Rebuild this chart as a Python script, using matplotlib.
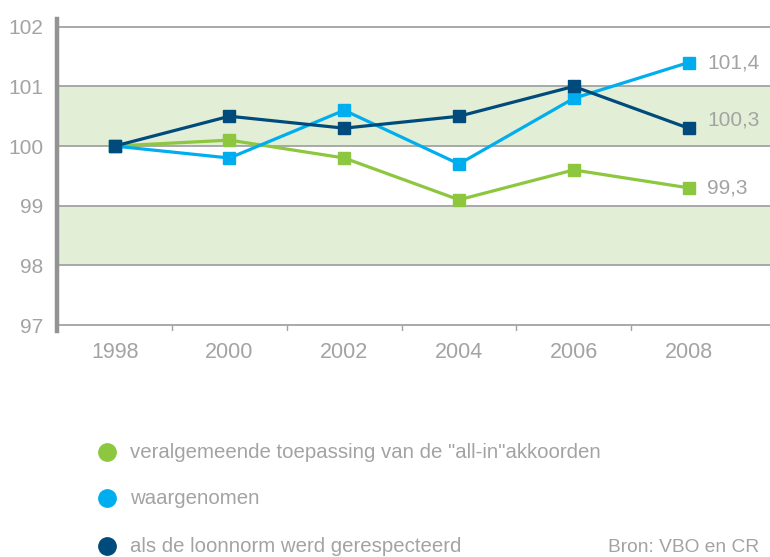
import matplotlib
matplotlib.use("Agg")
import matplotlib.pyplot as plt
from matplotlib.lines import Line2D

# gegevens
years = ["1998", "2000", "2002", "2004", "2006", "2008"]
allin = [100.0, 100.1, 99.8, 99.1, 99.6, 99.3]
waargenomen = [100.0, 99.8, 100.6, 99.7, 100.8, 101.4]
loonnorm = [100.0, 100.5, 100.3, 100.5, 101.0, 100.3]
y_ticks = [97, 98, 99, 100, 101, 102]
end_labels = ["101,4", "100,3", "99,3"]
legend_labels = [
    'veralgemeende toepassing van de "all-in"akkoorden',
    "waargenomen",
    "als de loonnorm werd gerespecteerd",
]
source = "Bron: VBO en CR"

COLORS = {
    "green": "#8DC63F",
    "light": "#00AEEF",
    "dark": "#004B7B",
    "band": "#E2EED6",
    "grid": "#A3A3A3",
    "axis": "#939393",
    "text": "#A3A3A3",
}

plt.rcParams["font.family"] = ["Liberation Sans", "DejaVu Sans"]

fig = plt.figure(figsize=(7.70, 5.57), dpi=100)
ax = fig.add_axes([0.0744, 0.4057, 1 - 0.0744, 0.9659 - 0.4057])
ax.set_xlim(-0.5, 5.71)
ax.set_ylim(96.9, 102.13)

# groene banden
ax.axhspan(100, 101, color=COLORS["band"], lw=0, zorder=0)
ax.axhspan(98, 99, color=COLORS["band"], lw=0, zorder=0)
for v in y_ticks:
    ax.axhline(v, color=COLORS["grid"], lw=1.3, zorder=1)

# tickjes tussen de jaren
x = list(range(len(years)))
ax.vlines([i + 0.5 for i in x[:-1]], 96.9, 97, color=COLORS["grid"], lw=1.0)

series = [(allin, COLORS["green"]), (waargenomen, COLORS["light"]),
          (loonnorm, COLORS["dark"])]
for vals, col in series:
    ax.plot(x, vals, color=col, lw=2.3, marker="s", markersize=8.5, zorder=3)

# eindwaarden
ax.text(5.16, waargenomen[-1], end_labels[0], color=COLORS["text"],
        fontsize=15, va="center", ha="left")
ax.text(5.16, loonnorm[-1] + 0.13, end_labels[1], color=COLORS["text"],
        fontsize=15, va="center", ha="left")
ax.text(5.16, allin[-1], end_labels[2], color=COLORS["text"],
        fontsize=15, va="center", ha="left")

for s in ["top", "right", "bottom"]:
    ax.spines[s].set_visible(False)
ax.spines["left"].set_color(COLORS["axis"])
ax.spines["left"].set_linewidth(3.2)

ax.set_yticks(y_ticks)
ax.set_yticklabels([str(v) for v in y_ticks])
ax.set_xticks(x)
ax.set_xticklabels(years)
ax.tick_params(axis="y", length=0, pad=10, labelsize=15, labelcolor=COLORS["text"])
ax.tick_params(axis="x", length=0, pad=8, labelsize=15.5, labelcolor=COLORS["text"])

# legende
leg_y = [452, 498, 546]
for (vals, col), lab, py in zip(series, legend_labels, leg_y):
    fy = 1 - py / 557
    fig.add_artist(Line2D([107 / 770], [fy], marker="o", markersize=12.5,
                          color=col, transform=fig.transFigure))
    fig.text(130 / 770, fy, lab, color=COLORS["text"], fontsize=14.7,
             va="center", ha="left")

fig.text(759 / 770, 1 - 547 / 557, source, color=COLORS["text"], fontsize=13.8,
         va="center", ha="right")

fig.savefig("out.png", dpi=100)
plt.close(fig)
